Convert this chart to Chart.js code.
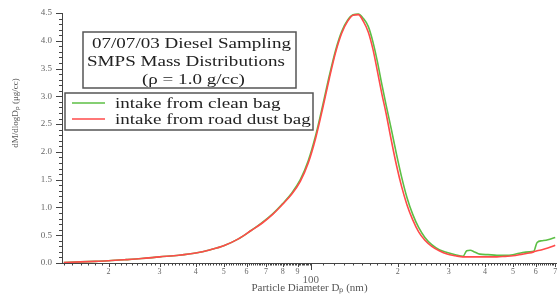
<!DOCTYPE html>
<html>
<head>
<meta charset="utf-8">
<script src="https://cdn.jsdelivr.net/npm/chart.js@4"></script>
<style>
  html, body { margin: 0; padding: 0; background: #fff; }
  #wrap { width: 557px; height: 295px; }
</style>
</head>
<body>
<div id="wrap"><canvas id="massChart"></canvas></div>
<script>
// particle diameters (nm) and mass distributions
var diameters = [14, 16, 18, 20, 23, 26, 30, 35, 40, 45, 50, 56, 62, 68, 74, 80, 86, 92, 98,
    104, 110, 116, 122, 128, 134, 140, 146, 152, 158, 164, 170, 176, 182, 190, 198, 206, 215,
    225, 236, 248, 262, 278, 296, 316, 336, 346, 356, 368, 384, 410, 440, 470, 500, 540, 570,
    590, 606, 630, 660, 700];
var cleanBag = [0.01, 0.02, 0.03, 0.04, 0.06, 0.08, 0.11, 0.14, 0.18, 0.24, 0.31, 0.43, 0.58,
    0.73, 0.89, 1.07, 1.26, 1.50, 1.84, 2.30, 2.84, 3.38, 3.84, 4.17, 4.37, 4.47, 4.48, 4.40,
    4.26, 3.98, 3.62, 3.22, 2.85, 2.40, 1.95, 1.55, 1.18, 0.88, 0.64, 0.46, 0.33, 0.24, 0.19,
    0.15, 0.12, 0.22, 0.23, 0.20, 0.16, 0.15, 0.14, 0.14, 0.15, 0.19, 0.20, 0.21, 0.37, 0.40,
    0.42, 0.46];
var roadDustBag = [0.01, 0.02, 0.03, 0.04, 0.06, 0.08, 0.11, 0.14, 0.18, 0.24, 0.31, 0.43, 0.58,
    0.72, 0.88, 1.06, 1.24, 1.47, 1.80, 2.25, 2.79, 3.33, 3.80, 4.14, 4.35, 4.46, 4.47, 4.35,
    4.16, 3.85, 3.45, 3.05, 2.70, 2.20, 1.75, 1.38, 1.05, 0.78, 0.56, 0.41, 0.30, 0.22, 0.16,
    0.13, 0.11, 0.11, 0.11, 0.11, 0.11, 0.11, 0.11, 0.12, 0.13, 0.16, 0.18, 0.20, 0.22, 0.24,
    0.27, 0.32];
var xLabelTicks = [20, 30, 40, 50, 60, 70, 80, 90, 100, 200, 300, 400, 500, 600, 700];
var seriesNames = ['intake from clean bag', 'intake from road dust bag'];
var titleLines = ['07/07/03 Diesel Sampling', 'SMPS Mass Distributions', '(\u03C1 = 1.0 g/cc)'];

var GREEN = '#5cbf45';
var RED = '#ff4a4a';
var SERIF = '"Liberation Serif", "Times New Roman", serif';

function toPoints(values) {
    return values.map((v, i) => ({ x: diameters[i], y: v }));
}

// text in the original is stretched sideways
function wideText(ctx, text, x, y, sx) {
    ctx.save();
    ctx.translate(x, y);
    ctx.scale(sx, 1);
    ctx.fillText(text, 0, 0);
    ctx.restore();
}

var overlay = {
    id: 'overlay',
    afterDraw(chart) {
        var ctx = chart.ctx;
        var xs = chart.scales.x, ys = chart.scales.y;
        ctx.save();

        // tick marks
        ctx.strokeStyle = '#444';
        ctx.lineWidth = 1;
        ctx.beginPath();
        for (var i = 0; i <= 45; i++) {
            var py = Math.round(ys.getPixelForValue(i / 10)) + 0.5;
            var len = i % 5 === 0 ? 6 : 3;
            ctx.moveTo(xs.left - len, py);
            ctx.lineTo(xs.left, py);
        }
        var minor = [];
        for (var d = 14; d < 100; d++) minor.push(d);
        for (var d2 = 100; d2 <= 700; d2 += 10) minor.push(d2);
        minor.forEach(v => {
            var px = Math.round(xs.getPixelForValue(v)) + 0.5;
            var l = v === 100 ? 7 : (xLabelTicks.indexOf(v) >= 0 ? 4 : 2.5);
            ctx.moveTo(px, ys.bottom);
            ctx.lineTo(px, ys.bottom + l);
        });
        ctx.stroke();

        // y axis title
        ctx.fillStyle = '#555';
        ctx.font = '9px ' + SERIF;
        ctx.textAlign = 'center';
        ctx.textBaseline = 'middle';
        ctx.save();
        ctx.translate(16, 113);
        ctx.rotate(-Math.PI / 2);
        ctx.fillText('dM/dlogD\u209A (\u03BCg/cc)', 0, 0);
        ctx.restore();

        // title box
        ctx.fillStyle = '#fff';
        ctx.fillRect(83, 32, 213, 56);
        ctx.strokeStyle = '#555';
        ctx.lineWidth = 1.5;
        ctx.strokeRect(83, 32, 213, 56);
        ctx.fillStyle = '#222';
        ctx.font = '15px ' + SERIF;
        ctx.textAlign = 'left';
        wideText(ctx, titleLines[0], 92, 44, 1.27);
        wideText(ctx, titleLines[1], 87, 62, 1.27);
        wideText(ctx, titleLines[2], 142, 80, 1.27);

        // legend box
        ctx.fillStyle = '#fff';
        ctx.fillRect(65, 93, 248, 37);
        ctx.strokeRect(65, 93, 248, 37);
        [GREEN, RED].forEach((c, k) => {
            var ly = 103 + k * 16;
            ctx.strokeStyle = c;
            ctx.lineWidth = 1.5;
            ctx.beginPath();
            ctx.moveTo(72, ly);
            ctx.lineTo(105, ly);
            ctx.stroke();
            ctx.fillStyle = '#222';
            wideText(ctx, seriesNames[k], 115, ly + 1, 1.27);
        });
        ctx.restore();
    }
};

var ctxMass = document.getElementById('massChart').getContext('2d');
var massChart = new Chart(ctxMass, {
    type: 'line',
    data: {
        datasets: [{
            label: seriesNames[0],
            data: toPoints(cleanBag),
            borderColor: GREEN,
            borderWidth: 1.6,
            pointRadius: 0,
            cubicInterpolationMode: 'monotone',
            order: 1
        }, {
            label: seriesNames[1],
            data: toPoints(roadDustBag),
            borderColor: RED,
            borderWidth: 1.6,
            pointRadius: 0,
            cubicInterpolationMode: 'monotone',
            order: 0
        }]
    },
    options: {
        responsive: true,
        maintainAspectRatio: false,
        animation: false,
        layout: { padding: { top: 13, left: 0, right: 0, bottom: 0 } },
        scales: {
            x: {
                type: 'logarithmic',
                min: 13.8,
                max: 710,
                afterBuildTicks: scale => {
                    scale.ticks = xLabelTicks.map(v => ({ value: v }));
                },
                afterFit: scale => {
                    scale.height = 32;
                    scale.paddingLeft = 0;
                    scale.paddingRight = 0;
                },
                grid: { display: true, drawOnChartArea: false, drawTicks: false },
                border: { display: true, color: '#444', width: 1 },
                ticks: {
                    autoSkip: false,
                    maxRotation: 0,
                    padding: 5,
                    color: '#666',
                    font: ctx => ctx.tick && ctx.tick.value === 100
                        ? { family: SERIF, size: 11, lineHeight: 0.75 }
                        : { family: SERIF, size: 8, lineHeight: 1 },
                    callback: v => v === 100 ? ['', '100'] : String(v).charAt(0)
                },
                title: {
                    display: true,
                    text: 'Particle Diameter D\u209A (nm)',
                    color: '#555',
                    font: { family: SERIF, size: 11 },
                    padding: { top: 0, bottom: 0 }
                }
            },
            y: {
                min: 0,
                max: 4.5,
                afterFit: scale => {
                    scale.width = 62;
                    scale.paddingTop = 0;
                    scale.paddingBottom = 0;
                },
                grid: { display: true, drawOnChartArea: false, drawTicks: false },
                border: { display: true, color: '#444', width: 1 },
                ticks: {
                    stepSize: 0.5,
                    padding: 10,
                    color: '#666',
                    font: { family: SERIF, size: 9 },
                    callback: v => v.toFixed(1)
                }
            }
        },
        plugins: {
            legend: { display: false },
            tooltip: { enabled: false }
        }
    },
    plugins: [overlay]
});
</script>
</body>
</html>
